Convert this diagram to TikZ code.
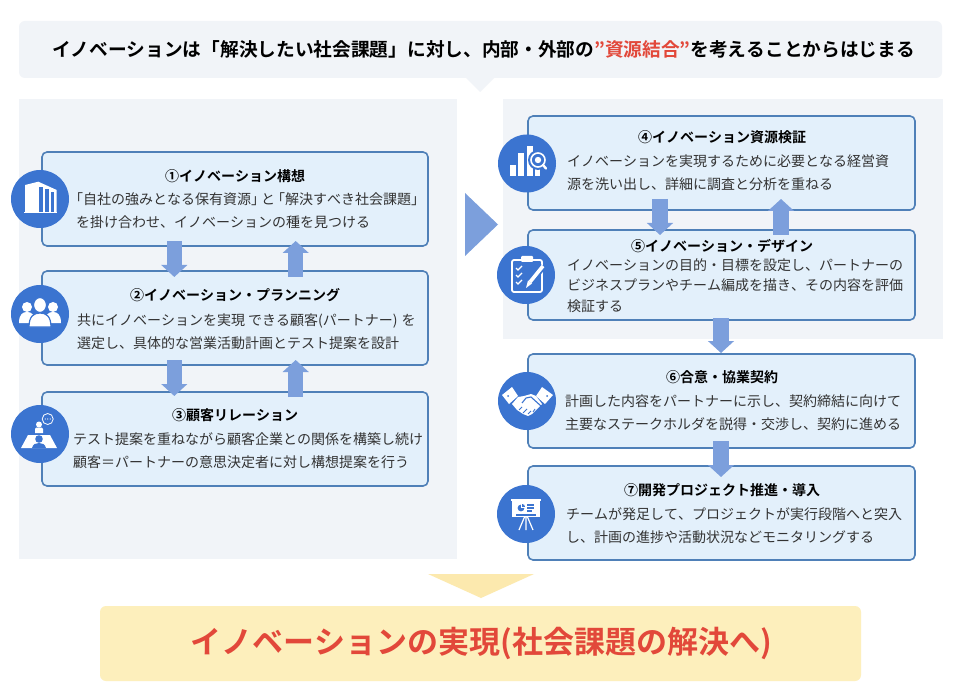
\documentclass[tikz,border=0pt]{standalone}
\usepackage{fontspec}
\setmainfont{Noto Sans CJK JP}[BoldFont={Noto Sans CJK JP Bold},Kerning=Off]
\usetikzlibrary{arrows.meta,calc}
\definecolor{panelc}{HTML}{F1F4F8}
\definecolor{boxfill}{HTML}{E3F0FB}
\definecolor{boxline}{HTML}{4F80B8}
\definecolor{circc}{HTML}{3B74D0}
\definecolor{arrowc}{HTML}{7C9FDC}
\definecolor{redc}{HTML}{E2483A}
\definecolor{yellowc}{HTML}{FDEFBC}
\definecolor{textc}{HTML}{333333}
\definecolor{triyc}{HTML}{FCE9AE}
\tikzset{
  panel/.style={fill=panelc,draw=none},
  card/.style={rounded corners=5pt,draw=boxline,line width=1.6pt,fill=boxfill,outer sep=0pt},
  icirc/.style={circle,fill=circc,draw=none,minimum size=58pt,inner sep=0pt},
  ttl/.style={font=\bfseries\fontsize{14}{16}\selectfont,text=black,inner sep=0pt,anchor=center},
  bodytxt/.style={font=\fontsize{14}{23}\selectfont,text=textc,inner sep=0pt,anchor=west,align=left},
  bigarrow/.style 2 args={draw=arrowc,line width=15.5pt,-{Triangle[width=25.5pt,length=12pt]},shorten <=#1,shorten >=#2},
}
\begin{document}
\begin{tikzpicture}[x=1pt,y=-1pt]
\useasboundingbox (0,0) rectangle (960,700);
\fill[white] (0,0) rectangle (960,700);
% header
\node[panel,rounded corners=6pt,minimum width=923pt,minimum height=57pt,inner sep=0pt] (head) at (480.5,49.5) {};
\node[font=\bfseries\fontsize{18.7}{20}\selectfont,text=black,inner sep=0pt,anchor=center] (headt) at (483.5,49.5) {イノベーションは「解決したい社会課題」に対し、内部・外部の\textcolor{redc}{”資源結合”}を考えることからはじまる};
\fill[panelc] (465,77) -- (495,77) -- (480,92) -- cycle;
% panels
\node[panel,minimum width=438pt,minimum height=460pt,inner sep=0pt] (pl) at (238,329) {};
\node[panel,minimum width=440pt,minimum height=240pt,inner sep=0pt] (pr) at (723,219) {};
\fill[arrowc] (465,193) -- (498,224.5) -- (465,256) -- cycle;
% cards
\node[card,minimum width=386pt,minimum height=94pt,inner sep=0pt] (c1) at (235,199) {};
\node[card,minimum width=386pt,minimum height=94pt,inner sep=0pt] (c2) at (235,318) {};
\node[card,minimum width=386pt,minimum height=94pt,inner sep=0pt] (c3) at (235,439) {};
\node[card,minimum width=387pt,minimum height=94pt,inner sep=0pt] (c4) at (721.5,163) {};
\node[card,minimum width=387pt,minimum height=90pt,inner sep=0pt] (c5) at (721.5,275) {};
\node[card,minimum width=387pt,minimum height=94pt,inner sep=0pt] (c6) at (721.5,401) {};
\node[card,minimum width=387pt,minimum height=94pt,inner sep=0pt] (c7) at (721.5,513) {};
% arrows
\draw[bigarrow={-5pt}{-6pt}] ([xshift=-60.7pt]c1.south) -- ([xshift=-60.7pt]c2.north);
\draw[bigarrow={-6pt}{-5pt}] ([xshift=60.7pt]c2.north) -- ([xshift=60.7pt]c1.south);
\draw[bigarrow={-5pt}{-4pt}] ([xshift=-60.7pt]c2.south) -- ([xshift=-60.7pt]c3.north);
\draw[bigarrow={-5pt}{-5pt}] ([xshift=60.7pt]c3.north) -- ([xshift=60.7pt]c2.south);
\draw[bigarrow={-11pt}{-5pt}] ([xshift=-61.5pt]c4.south) -- ([xshift=-61.5pt]c5.north);
\draw[bigarrow={-5pt}{-11pt}] ([xshift=59.5pt]c5.north) -- ([xshift=59.5pt]c4.south);
\draw[bigarrow={-2pt}{1pt}] ([xshift=-.5pt]c5.south) -- ([xshift=-.5pt]c6.north);
\draw[bigarrow={-7pt}{-11pt}] ([xshift=-.5pt]c6.south) -- ([xshift=-.5pt]c7.north);
% circles
\node[icirc] (i1) at (40,199) {};
\node[icirc] (i2) at (40,314) {};
\node[icirc] (i3) at (40,434) {};
\node[icirc] (i4) at (527,163.5) {};
\node[icirc] (i5) at (526,275) {};
\node[icirc] (i6) at (527,401) {};
\node[icirc] (i7) at (526,514) {};
% titles
\node[ttl] (t1) at (235,176) {①イノベーション構想};
\node[ttl] (t2) at (235,295) {②イノベーション・プランニング};
\node[ttl] (t3) at (235,415) {③顧客リレーション};
\node[ttl] (t4) at (722,137) {④イノベーション資源検証};
\node[ttl] (t5) at (722,246) {⑤イノベーション・デザイン};
\node[ttl] (t6) at (722,377) {⑥合意・協業契約};
\node[ttl] (t7) at (722,490) {⑦開発プロジェクト推進・導入};
% bodies
\node[bodytxt] (b1) at (76,210.5) {\hspace*{-7pt}「自社の強みとなる保有資源」\kern-4pt と\kern-4pt「解決すべき社会課題」\\を掛け合わせ、イノベーションの種を見つける};
\node[bodytxt] (b2) at (77,331.5) {共にイノベーションを実現\kern3pt できる顧客(パートナー)\kern4pt を\\選定し、具体的な営業活動計画とテスト提案を設計};
\node[bodytxt] (b3) at (73,451) {テスト提案を重ねながら顧客企業との関係を構築し続け\\顧客＝パートナーの意思決定者に対し構想提案を行う};
\node[bodytxt] (b4) at (567,172.5) {イノベーションを実現するために必要となる経営資\\源を洗い出し、詳細に調査と分析を重ねる};
\node[bodytxt,font=\fontsize{14}{20.5}\selectfont] (b5) at (567,285.5) {イノベーションの目的・目標を設定し、パートナーの\\ビジネスプランやチーム編成を描き、その内容を評価\\検証する};
\node[bodytxt] (b6) at (565,412.5) {計画した内容をパートナーに示し、契約締結に向けて\\主要なステークホルダを説得・交渉し、契約に進める};
\node[bodytxt] (b7) at (566,525.5) {チームが発足して、プロジェクトが実行段階へと突入\\し、計画の進捗や活動状況などモニタリングする};
% bottom
\fill[triyc] (428,574) -- (534,574) -- (481,598) -- cycle;
\node[fill=yellowc,rounded corners=6pt,minimum width=761pt,minimum height=75pt,inner sep=0pt] (goal) at (480.5,643.5) {};
\node[font=\bfseries\fontsize{31}{36}\selectfont,text=redc,inner sep=0pt] (goalt) at (481.5,643) {イノベーションの実現(社会課題の解決へ)};
% icon 1
\begin{scope}[shift={(i1.center)}]
 \fill[white] (-15,-14) -- (-1.7,-17.3) -- (16.7,-9) -- (16.7,13) -- (-15,13) -- cycle;
 \fill[white] (-16,12.7) rectangle (17.3,14.5);
 \fill[circc] (-1,-12.3) rectangle (3.3,12.7);
 \fill[circc] (5,-9.7) rectangle (9,12.7);
 \fill[circc] (10.7,-7.3) rectangle (14.3,12.7);
\end{scope}
% icon 2
\begin{scope}[shift={(i2.center)}]
 \fill[white] (-13,-7) circle (5);
 \fill[white] (13,-7) circle (5);
 \fill[white] (-21,9) .. controls (-21,0) and (-17,-2) .. (-13,-2) .. controls (-9,-2) and (-5,0) .. (-5,9) -- cycle;
 \fill[white] (21,9) .. controls (21,0) and (17,-2) .. (13,-2) .. controls (9,-2) and (5,0) .. (5,9) -- cycle;
 \fill[white,draw=circc,line width=1.2pt] (0,-9) ellipse (6.5 and 7.5);
 \fill[white,draw=circc,line width=1.2pt] (-11,13) .. controls (-11,2) and (-6,-1) .. (0,-1) .. controls (6,-1) and (11,2) .. (11,13) -- cycle;
\end{scope}
% icon 3
\begin{scope}[shift={(i3.center)}]
 \fill[white] (-12,1) -- (10,1) -- (17,14) -- (-19,14) -- cycle;
 \fill[circc] (-1,5) circle (3.8);
 \fill[circc] (-8,14) .. controls (-7,10) and (-4,9) .. (-1,9) .. controls (2,9) and (5,10) .. (6,14) -- cycle;
 \fill[white] (-1,-9.5) circle (3);
 \fill[white] (-5,-1) -- (-5,-5) .. controls (-5,-6.5) and (-3,-6.5) .. (-1,-6.5) .. controls (1,-6.5) and (3,-6.5) .. (3,-5) -- (3,-1) -- cycle;
 \draw[white,line width=.8pt] (7.7,-15) circle (5.5);
 \fill[white] (5.2,-15) circle (.6) (7.7,-15) circle (.6) (10.2,-15) circle (.6);
\end{scope}
% icon 4
\begin{scope}[shift={(i4.center)}]
 \fill[white] (-17,1.5) rectangle (-11,13);
 \fill[white] (-9,-10) rectangle (-3,13);
 \fill[white] (0,-17) rectangle (6,13);
 \fill[white] (8,5) rectangle (13,13);
 \fill[circc] (11,-3.5) circle (10);
 \draw[white,line width=1.6pt] (11,-3.5) circle (7);
 \fill[white] (11,-3.5) circle (3.2);
 \draw[white,line width=2.4pt,line cap=round] (16,1.5) -- (19,5);
\end{scope}
% icon 5
\begin{scope}[shift={(i5.center)}]
 \draw[white,line width=1.8pt,rounded corners=2pt,fill=circc] (-14,-15) rectangle (16,17);
 \fill[white,rounded corners=1pt] (-5,-19) rectangle (7,-13);
 \foreach \yy in {-7,0,7} {
  \draw[white,line width=1.2pt] (-10,\yy) -- (-8,\yy+2) -- (-4,\yy-2);
 }
 \draw[circc,line width=7pt] (2,10) -- (17,-9);
 \draw[white,line width=3.6pt] (4,7) -- (17,-9);
 \fill[white] (0,13) -- (2,5.5) -- (6,8.5) -- cycle;
\end{scope}
% icon 6
\begin{scope}[shift={(i6.center)}]
 \fill[white] (-25,-6) -- (-15,-14) -- (-9,-5) -- (-18,3) -- cycle;
 \fill[white] (26,-6) -- (15,-14) -- (9,-5) -- (18,3) -- cycle;
 \fill[circc] (-19,-5) circle (1) (20,-5) circle (1);
 \fill[white] (-15,3) -- (-9,-4) -- (-3,-5) -- (4,-7) -- (9,-5) -- (15,3) -- (10,8) -- (5,13) -- (1,15) -- (-4,13) -- (-10,9) -- cycle;
 \draw[circc,line width=1.1pt,line join=round] (-5,2) -- (-1,-3) -- (4,-4) -- (14,5);
 \draw[circc,line width=.9pt] (-8,9) -- (-5,6) (-4,12) -- (0,8) (1,13) -- (4,10) (6,11) -- (8,8);
\end{scope}
% icon 7
\begin{scope}[shift={(i7.center)}]
 \fill[white] (-15,-15) rectangle (15,-13);
 \fill[white] (-14,-13) rectangle (14,3);
 \fill[circc] (-5,-6) circle (3.4);
 \fill[white] (-5,-6) -- (-5,-9.6) -- (-1.4,-9.6) -- (-1.4,-6) -- cycle;
 \fill[circc] (-3.8,-7.2) -- (-3.8,-10) arc[start angle=-90,end angle=0,radius=2.8] -- cycle;
 \draw[circc,line width=1.1pt] (1,-9) -- (8,-9) (1,-6) -- (8,-6) (1,-3) -- (6,-3);
 \draw[circc,line width=1.1pt] (-10,1) -- (10,1);
 \draw[white,line width=1.2pt] (-1.5,3) -- (-7,16) (0,3) -- (0,16) (1.5,3) -- (7,16);
\end{scope}
\end{tikzpicture}
\end{document}
